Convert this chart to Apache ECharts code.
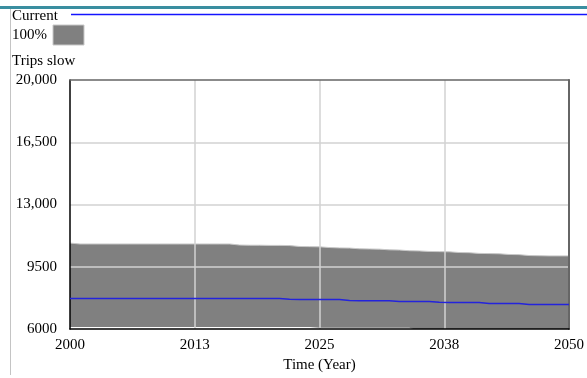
<!DOCTYPE html>
<html>

<head>
    <meta charset="utf-8" />
    <title>Trips slow</title>
    <script src="https://cdn.jsdelivr.net/npm/echarts@6/dist/echarts.min.js"></script>
    <style>
        body { margin: 0; background: #fff; }
        #chart { width: 587px; height: 378px; }
    </style>
</head>

<body>
    <div id="chart"></div>

    <script type="text/javascript">
        // years on the time axis
        var years = [];
        for (var y = 2000; y <= 2050; y++) years.push(y);

        // tick labels
        var xTicks = [2000, 2013, 2025, 2038, 2050];
        var yTicks = [6000, 9500, 13000, 16500, 20000];

        // upper edge of the 100% band
        var bandUpper = [
            10830, 10780, 10780, 10780, 10780, 10780, 10780, 10780, 10780, 10780,
            10780, 10780, 10780, 10780, 10780, 10780, 10780, 10720, 10710, 10710,
            10700, 10700, 10690, 10640, 10630, 10620, 10580, 10560, 10550, 10510,
            10500, 10490, 10450, 10440, 10400, 10390, 10360, 10350, 10340, 10300,
            10290, 10250, 10240, 10230, 10190, 10180, 10130, 10120, 10110, 10110,
            10110
        ];
        // lower edge of the 100% band (drops under the axis after ~2034)
        var bandLower = [
            6110, 6110, 6110, 6110, 6110, 6110, 6110, 6110, 6110, 6110,
            6110, 6110, 6110, 6110, 6110, 6110, 6110, 6110, 6110, 6110,
            6110, 6110, 6110, 6110, 6110, 6070, 6070, 6070, 6070, 6070,
            6070, 6070, 6070, 6070, 6070, 5900, 5900, 5900, 5900, 5900,
            5900, 5900, 5900, 5900, 5900, 5900, 5900, 5900, 5900, 5900,
            5900
        ];
        // Current run
        var current = [
            7720, 7720, 7720, 7720, 7720, 7720, 7720, 7720, 7720, 7720,
            7720, 7720, 7720, 7720, 7720, 7720, 7720, 7720, 7720, 7720,
            7720, 7720, 7670, 7665, 7665, 7665, 7665, 7665, 7600, 7595,
            7595, 7595, 7595, 7545, 7540, 7540, 7540, 7510, 7485, 7485,
            7485, 7485, 7440, 7430, 7430, 7430, 7380, 7375, 7375, 7375,
            7375
        ];

        function pairs(arr) {
            return years.map(function (yr, i) { return [yr, arr[i]]; });
        }

        function fmtY(v) {
            var s = String(v);
            if (v >= 10000) s = s.replace(/\B(?=(\d{3})+(?!\d))/g, ',');
            return s;
        }

        var font = 'Liberation Serif';
        var myChart = echarts.init(document.getElementById('chart'), null, { renderer: 'canvas' });

        myChart.setOption({
            animation: false,
            backgroundColor: '#fff',
            grid: { left: 70, top: 80, width: 499, height: 252 },
            xAxis: [{
                type: 'value',
                min: xTicks[0],
                max: xTicks[xTicks.length - 1],
                interval: 12.5,
                z: 3,
                name: 'Time (Year)',
                nameLocation: 'middle',
                nameGap: 29,
                nameTextStyle: { fontFamily: font, fontSize: 15, color: '#000' },
                axisLine: { lineStyle: { color: '#000', width: 1.5 } },
                axisTick: { show: false },
                axisLabel: {
                    margin: 9,
                    fontFamily: font,
                    fontSize: 15,
                    color: '#000',
                    formatter: function (v) { return String(Math.round(v)); }
                },
                splitLine: { show: true, showMinLine: false, showMaxLine: false, lineStyle: { color: '#d2d2d2', width: 1.5 } }
            }, {
                type: 'value',
                position: 'top',
                min: xTicks[0],
                max: xTicks[xTicks.length - 1],
                z: 3,
                axisLine: { show: true, lineStyle: { color: '#666', width: 1.5 } },
                axisTick: { show: false },
                axisLabel: { show: false },
                splitLine: { show: false }
            }],
            yAxis: [{
                type: 'value',
                min: yTicks[0],
                max: yTicks[yTicks.length - 1],
                interval: 3500,
                z: 3,
                axisLine: { show: true, lineStyle: { color: '#000', width: 1.5 } },
                axisTick: { show: false },
                axisLabel: {
                    margin: 13,
                    padding: [4, 0, 0, 0],
                    fontFamily: font,
                    fontSize: 15,
                    color: '#000',
                    formatter: fmtY
                },
                splitLine: { show: true, showMinLine: false, showMaxLine: false, lineStyle: { color: '#d2d2d2', width: 1.5 } }
            }, {
                type: 'value',
                position: 'right',
                min: yTicks[0],
                max: yTicks[yTicks.length - 1],
                z: 3,
                axisLine: { show: true, lineStyle: { color: '#666', width: 2 } },
                axisTick: { show: false },
                axisLabel: { show: false },
                splitLine: { show: false }
            }],
            series: [{
                name: '100%',
                type: 'line',
                data: pairs(bandUpper),
                symbol: 'none',
                z: 1,
                lineStyle: { color: '#c8c8c8', width: 1 },
                areaStyle: { color: '#808080', opacity: 1 }
            }, {
                name: 'lower',
                type: 'line',
                data: pairs(bandLower),
                symbol: 'none',
                z: 2,
                lineStyle: { width: 0 },
                areaStyle: { color: '#fff', opacity: 1 }
            }, {
                name: 'Current',
                type: 'line',
                data: pairs(current),
                symbol: 'none',
                z: 5,
                lineStyle: { color: '#2323dc', width: 1.5 }
            }],
            graphic: [
                { type: 'rect', left: 0, top: 6, shape: { width: 587, height: 3 }, style: { fill: '#3a8ea0' } },
                { type: 'line', shape: { x1: 10.5, y1: 9, x2: 10.5, y2: 375 }, style: { stroke: '#c4c4c4', lineWidth: 1 } },
                { type: 'text', x: 12, y: 16, style: { text: 'Current', font: '15px "Liberation Serif"', fill: '#000', verticalAlign: 'middle' } },
                { type: 'line', shape: { x1: 71, y1: 14.5, x2: 587, y2: 14.5 }, style: { stroke: '#1414ff', lineWidth: 1.5 } },
                { type: 'text', x: 12, y: 35, style: { text: '100%', font: '15px "Liberation Serif"', fill: '#000', verticalAlign: 'middle' } },
                { type: 'rect', shape: { x: 53, y: 25, width: 31, height: 20 }, style: { fill: '#808080', stroke: '#c8c8c8', lineWidth: 1 } },
                { type: 'text', x: 12, y: 61, style: { text: 'Trips slow', font: '15px "Liberation Serif"', fill: '#000', verticalAlign: 'middle' } }
            ]
        });
    </script>

</body>

</html>
